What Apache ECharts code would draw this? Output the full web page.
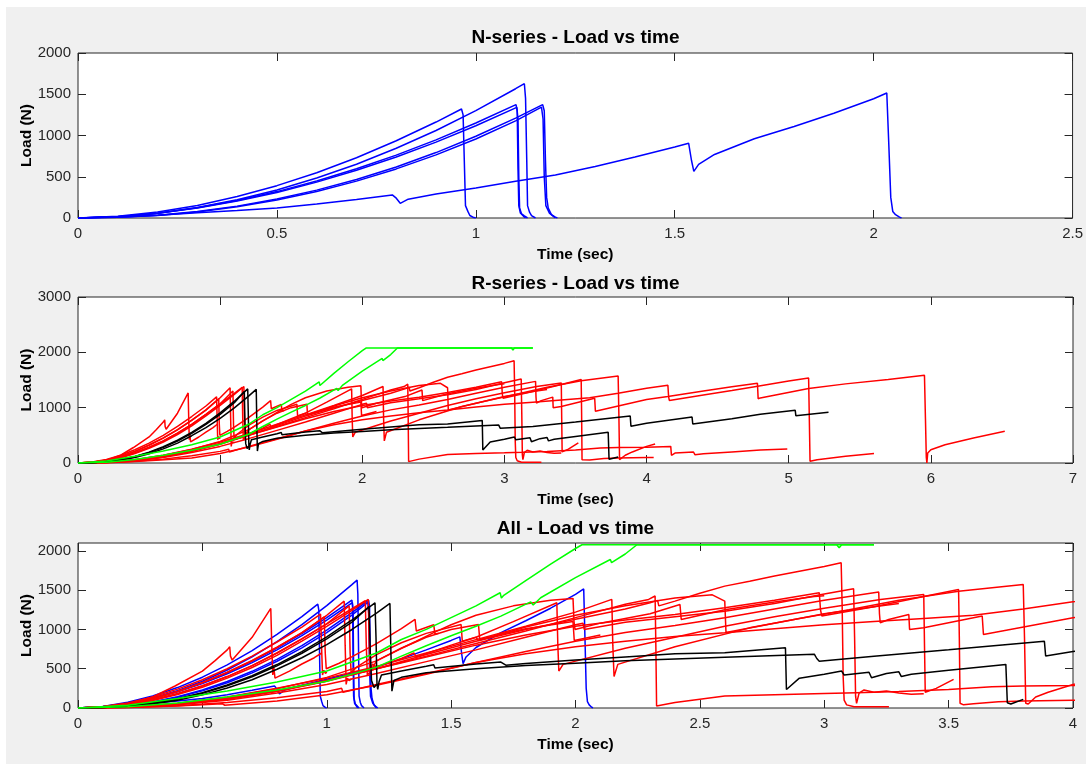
<!DOCTYPE html>
<html><head><meta charset="utf-8">
<script src="https://cdn.jsdelivr.net/npm/echarts@6/dist/echarts.min.js"></script>
<style>html,body{margin:0;padding:0;background:#fff}#c{width:1086px;height:764px}</style>
</head><body><div id="c"></div><script>
// ---- Titles / axis text ----
const titles = ['N-series - Load vs time', 'R-series - Load vs time', 'All - Load vs time'];
const xName = 'Time (sec)';
const yName = 'Load (N)';
const xMax = [2.5, 7, 4];
const xStep = [0.5, 1, 0.5];
const yMax = [2000, 3000, 2100];
const yStep = [500, 1000, 500];

// ---- N-series (blue) [time s, load N] ----
const n1 = [[0,0],[0.1,20],[0.2,72],[0.3,152],[0.4,260],[0.5,392],[0.6,549],[0.7,731],[0.8,936],[0.9,1163],[0.964,1321],[0.968,1250],[0.971,700],[0.974,150],[0.98,80],[0.985,30],[0.99,45],[0.995,5],[1.0,0]];
const n2 = [[0,0],[0.1,15],[0.2,57],[0.3,126],[0.4,220],[0.5,340],[0.6,484],[0.7,652],[0.8,845],[0.9,1061],[1.0,1302],[1.1,1567],[1.122,1628],[1.125,1450],[1.128,700],[1.13,150],[1.135,70],[1.14,30],[1.145,40],[1.15,0]];
const n3 = [[0,0],[0.1,16],[0.2,59],[0.3,125],[0.4,212],[0.5,320],[0.6,448],[0.7,596],[0.8,762],[0.9,947],[1.0,1151],[1.101,1374],[1.104,1300],[1.106,600],[1.108,150],[1.112,60],[1.12,20],[1.125,0]];
const n4 = [[0,0],[0.1,15],[0.2,56],[0.3,120],[0.4,205],[0.5,310],[0.6,435],[0.7,578],[0.8,740],[0.9,920],[1.0,1118],[1.103,1341],[1.106,1200],[1.108,500],[1.11,120],[1.115,50],[1.122,25],[1.13,0]];
const n5 = [[0,0],[0.1,8],[0.2,33],[0.3,78],[0.4,144],[0.5,230],[0.6,338],[0.7,467],[0.8,619],[0.9,793],[1.0,991],[1.1,1211],[1.168,1374],[1.172,1300],[1.175,700],[1.178,250],[1.182,120],[1.19,40],[1.2,10],[1.205,0]];
const n6 = [[0,0],[0.1,8],[0.2,31],[0.3,74],[0.4,137],[0.5,218],[0.6,322],[0.7,447],[0.8,595],[0.9,765],[1.0,958],[1.1,1178],[1.165,1345],[1.169,1200],[1.172,500],[1.176,150],[1.185,60],[1.195,20],[1.2,0]];
const n7 = [[0,0],[0.1,12],[0.2,34],[0.3,64],[0.4,90],[0.5,121],[0.6,170],[0.7,225],[0.79,280],[0.8,240],[0.81,178],[0.83,228],[0.9,290],[1.0,365],[1.1,445],[1.2,520],[1.3,625],[1.4,740],[1.5,860],[1.535,905],[1.542,700],[1.548,565],[1.56,650],[1.6,770],[1.7,960],[1.8,1110],[1.9,1270],[2.0,1445],[2.033,1515],[2.038,900],[2.043,250],[2.048,80],[2.055,40],[2.06,50],[2.065,10],[2.07,0]];

// ---- R-series (red) ----
const r1 = [[0,0],[0.1,12],[0.2,45],[0.3,140],[0.39,280],[0.5,470],[0.55,600],[0.6,740],[0.61,780],[0.613,660],[0.62,610],[0.7,900],[0.775,1267],[0.779,800],[0.783,420],[0.787,520],[0.792,380],[0.8,400],[0.85,470],[0.9,560],[0.95,640],[0.98,700]];
const r2 = [[0,0],[0.1,18],[0.2,65],[0.3,140],[0.4,240],[0.5,360],[0.6,500],[0.7,660],[0.8,840],[0.9,1030],[0.975,1195],[0.979,800],[0.983,420],[0.988,480],[0.995,440],[1.0,460]];
const r3 = [[0,0],[0.1,14],[0.2,52],[0.3,120],[0.4,210],[0.5,325],[0.6,455],[0.7,605],[0.8,775],[0.9,955],[0.99,1160],[0.994,700],[0.998,500],[1.05,570],[1.1,650],[1.2,820],[1.3,1010],[1.355,1127],[1.36,980],[1.43,1060],[1.435,940],[1.45,950]];
const r4 = [[0,0],[0.1,15],[0.2,55],[0.3,120],[0.4,210],[0.5,320],[0.6,450],[0.7,600],[0.8,770],[0.9,960],[1.0,1180],[1.07,1360],[1.074,800],[1.078,300],[1.083,380],[1.09,350],[1.1,370]];
const r5 = [[0,0],[0.1,10],[0.2,42],[0.3,100],[0.4,180],[0.5,280],[0.6,400],[0.7,540],[0.8,700],[0.9,880],[1.0,1070],[1.09,1300],[1.094,700],[1.098,450],[1.12,520],[1.2,680],[1.3,830],[1.4,950],[1.54,1063],[1.545,849],[1.6,900],[1.75,1100],[1.925,1340],[1.929,800],[1.933,470],[1.95,555],[2.2,760],[2.4,900],[2.6,1040],[2.8,1160],[3.0,1270],[3.226,1381],[3.4,1445],[3.403,800],[3.406,200],[3.41,180],[3.45,250],[3.52,365]];
const r6 = [[0,0],[0.1,10],[0.2,40],[0.3,95],[0.4,170],[0.5,265],[0.6,380],[0.7,515],[0.8,670],[0.9,850],[1.0,1040],[1.1,1240],[1.167,1382],[1.17,900],[1.174,500],[1.185,560],[1.2,520]];
const r7 = [[0,0],[0.1,12],[0.2,45],[0.3,105],[0.4,185],[0.5,285],[0.6,400],[0.7,540],[0.8,700],[0.9,880],[1.0,1070],[1.1,1260],[1.155,1365],[1.159,800],[1.163,420],[1.175,460],[1.2,600],[1.3,760],[1.4,900],[1.5,1000],[1.61,1063],[1.615,871],[1.7,940],[1.8,1010],[1.99,1100],[1.995,860],[2.1,930]];
const r8 = [[0,0],[0.2,15],[0.4,60],[0.6,140],[0.8,250],[1.0,380],[1.2,530],[1.4,700],[1.6,870],[1.8,1040],[2.0,1220],[2.146,1382],[2.15,800],[2.155,400],[2.17,555],[2.4,780],[2.7,1020],[2.9,1140],[3.1,1250],[3.3,1370],[3.54,1487],[3.8,1572],[3.805,900],[3.81,60],[3.82,50],[3.85,140],[3.9,200],[4.0,300],[4.06,344]];
const r9 = [[0,0],[0.2,12],[0.4,50],[0.6,120],[0.8,220],[1.0,350],[1.2,500],[1.4,660],[1.6,820],[1.8,980],[2.0,1150],[2.2,1320],[2.294,1382],[2.32,1425],[2.323,800],[2.326,25],[2.4,70],[2.6,152],[2.8,170],[3.0,185],[3.13,195],[3.3,210],[3.5,235],[3.674,271],[3.8,280],[4.0,285],[4.17,300],[4.175,139],[4.2,180],[4.33,199],[4.34,150],[4.4,165],[4.6,200],[4.8,235],[4.99,253]];
const r10 = [[0,0],[0.2,10],[0.4,45],[0.6,110],[0.8,210],[1.0,340],[1.2,500],[1.4,680],[1.6,850],[1.8,1000],[2.0,1130],[2.2,1260],[2.3,1340],[2.33,1370],[2.335,1300],[2.4,1360],[2.5,1460],[2.6,1551],[2.7,1614],[2.8,1680],[2.9,1740],[3.0,1800],[3.068,1848],[3.072,1300],[3.076,400],[3.08,100],[3.09,40],[3.12,15],[3.26,15]];
const r11 = [[0,0],[0.2,5],[0.4,25],[0.58,55],[0.59,35],[0.8,90],[1.0,170],[1.2,290],[1.4,430],[1.6,580],[1.8,720],[2.0,850],[2.2,960],[2.4,1050],[2.6,1148],[2.8,1260],[3.0,1370],[3.219,1475],[3.222,1200],[3.225,1085],[3.259,1127],[3.34,1190],[3.343,1000],[3.4,1020],[3.635,1170],[3.64,936],[3.642,957],[4.0,1148],[4.15,1200],[4.4,1300],[4.6,1380],[4.78,1440],[4.785,1160],[4.8,1176],[5.14,1345],[5.4,1430],[5.7,1510],[5.955,1586],[5.962,800],[5.968,100],[5.972,0],[5.978,180],[6.0,240],[6.1,330],[6.3,450],[6.52,575]];
const r12 = [[0,0],[0.2,6],[0.4,30],[0.6,70],[0.8,130],[1.0,210],[1.06,250],[1.065,200],[1.2,300],[1.4,440],[1.6,580],[1.8,690],[2.0,780],[2.2,850],[2.4,910],[2.6,957],[2.8,1010],[3.0,1060],[3.2,1100],[3.4,1140],[3.6,1180],[3.8,1260],[4.0,1352],[4.15,1405],[4.155,1200],[4.16,1130],[4.4,1230],[4.6,1310],[4.75,1375],[5.0,1480],[5.14,1538],[5.145,800],[5.15,30],[5.2,60],[5.4,120],[5.6,170]];
const r13 = [[0,0],[0.2,12],[0.4,50],[0.6,120],[0.8,220],[1.0,350],[1.2,500],[1.4,650],[1.6,800],[1.8,930],[2.0,1040],[2.2,1120],[2.4,1190],[2.6,1276],[2.8,1370],[2.98,1467],[2.985,1250],[2.99,1172],[3.2,1290],[3.4,1420],[3.54,1509],[3.543,900],[3.546,60],[3.56,40],[3.6,55],[3.7,80],[3.8,90],[4.0,100],[4.05,100]];
const r14 = [[0,0],[0.2,10],[0.4,40],[0.6,100],[0.8,190],[1.0,300],[1.2,440],[1.4,590],[1.6,740],[1.8,900],[2.0,1060],[2.03,1080],[2.035,1000],[2.2,1090],[2.4,1160],[2.6,1232],[2.8,1330],[3.0,1450],[3.118,1517],[3.122,900],[3.126,150],[3.13,60],[3.14,190],[3.16,230],[3.2,200],[3.25,215],[3.3,190],[3.35,175],[3.4,180]];
const r15 = [[0,0],[0.2,14],[0.4,58],[0.6,135],[0.8,245],[1.0,390],[1.2,600],[1.3,760],[1.36,850],[1.43,960],[1.5,1060],[1.6,1180],[1.75,1300],[1.9,1370],[1.99,1395],[1.994,1100],[1.998,1000],[2.1,1080],[2.3,1200],[2.42,1318],[2.425,1127],[2.6,1250],[2.8,1350],[2.96,1420],[3.0,1430]];
const r16 = [[0,0],[0.2,10],[0.4,48],[0.6,115],[0.8,215],[1.0,345],[1.2,520],[1.3,630],[1.35,700],[1.36,650],[1.5,800],[1.6,900],[1.61,860],[1.8,1030],[2.0,1180],[2.2,1300],[2.4,1400],[2.55,1440],[2.6,1360],[2.605,960],[2.61,935],[2.8,1080],[3.0,1200],[3.2,1290],[3.3,1330]];

// ---- R-series (black) ----
const k1 = [[0,0],[0.1,6],[0.2,26],[0.3,63],[0.4,119],[0.5,195],[0.6,293],[0.7,411],[0.8,553],[0.9,717],[1.0,905],[1.1,1117],[1.194,1339],[1.198,900],[1.202,300],[1.205,237],[1.21,330],[1.22,420],[1.25,440],[1.3,470],[1.4,530],[1.43,550],[1.435,510],[1.6,560],[1.7,585],[1.72,545],[1.8,565],[2.0,610],[2.2,650],[2.4,690],[2.6,703],[2.844,767],[2.848,236],[2.9,380],[3.0,430],[3.07,470],[3.08,420],[3.18,455],[3.19,385],[3.25,440],[3.3,460],[3.31,400],[3.35,430],[3.5,480],[3.73,555],[3.736,67],[3.75,50],[3.8,110]];
const k2 = [[0,0],[0.1,5],[0.2,22],[0.3,52],[0.4,100],[0.5,167],[0.6,255],[0.7,360],[0.8,493],[0.9,640],[1.0,807],[1.1,996],[1.2,1208],[1.254,1331],[1.258,700],[1.262,215],[1.27,350],[1.3,390],[1.4,449],[1.6,500],[1.8,540],[2.0,570],[2.2,600],[2.4,625],[2.6,645],[2.96,685],[2.97,630],[2.98,596],[3.2,660],[3.5,740],[3.885,850],[3.89,663],[4.0,720],[4.32,830],[4.325,705],[4.6,800],[4.8,880],[5.046,953],[5.05,856],[5.28,916]];
const k3 = [[0,0],[0.1,6],[0.2,25],[0.3,60],[0.4,114],[0.5,188],[0.6,283],[0.7,398],[0.8,536],[0.9,697],[1.0,880],[1.1,1090],[1.17,1290],[1.175,700],[1.18,350],[1.19,260],[1.2,300]];

// ---- R-series (green) ----
const g1 = [[0,0],[0.2,35],[0.4,120],[0.6,215],[0.8,330],[1.0,470],[1.2,700],[1.3,872],[1.4,1000],[1.5,1150],[1.6,1300],[1.697,1467],[1.702,1400],[1.71,1430],[1.8,1620],[1.9,1830],[2.0,2030],[2.026,2078],[3.05,2078],[3.06,2040],[3.07,2078],[3.2,2078]];
const g2 = [[0,0],[0.2,15],[0.4,65],[0.6,140],[0.8,230],[1.0,340],[1.2,520],[1.3,660],[1.4,792],[1.5,920],[1.6,1040],[1.7,1170],[1.82,1350],[1.83,1310],[1.86,1403],[2.0,1660],[2.14,1890],[2.145,1850],[2.2,1960],[2.247,2078],[3.2,2078]];

const blueCurves = [n1, n2, n3, n4, n5, n6, n7];
const redCurves = [r1, r2, r3, r4, r5, r6, r7, r8, r9, r10, r11, r12, r13, r14, r15, r16];
const blackCurves = [k1, k2, k3];
const greenCurves = [g1, g2];

// ---- Build chart ----
const FONT = 'Liberation Sans, Arial, sans-serif';
const GRIDS = [
  {left: 78, top: 53, width: 995, height: 165},
  {left: 78, top: 297, width: 995, height: 166},
  {left: 78, top: 543, width: 995, height: 165}
];
const TITLE_TOP = [28, 274, 519];

const grid = GRIDS.map(g => Object.assign({show: true, backgroundColor: '#ffffff', borderColor: '#262626', borderWidth: 1, containLabel: false}, g));
const tick = () => ({show: true, inside: true, length: 8, lineStyle: {color: '#262626', width: 1}});
const noLine = () => ({show: false, onZero: false});
const fmt = v => String(Math.round(v * 1000) / 1000);

const xAxis = [], yAxis = [];
for (let i = 0; i < 3; i++) {
  xAxis.push({type: 'value', gridIndex: i, min: 0, max: xMax[i], interval: xStep[i], position: 'bottom',
    axisLine: noLine(), axisTick: tick(), splitLine: {show: false},
    axisLabel: {margin: 8, fontSize: 15, color: '#262626', fontFamily: FONT, formatter: fmt},
    name: xName, nameLocation: 'middle', nameGap: 29, nameMoveOverlap: false,
    nameTextStyle: {fontSize: 15.5, fontWeight: 'bold', color: '#000', fontFamily: FONT}});
  yAxis.push({type: 'value', gridIndex: i, min: 0, max: yMax[i], interval: yStep[i], position: 'left',
    axisLine: noLine(), axisTick: tick(), splitLine: {show: false},
    axisLabel: {margin: 7, fontSize: 15, color: '#262626', fontFamily: FONT, formatter: fmt, showMaxLabel: i === 2 ? false : true},
    name: yName, nameLocation: 'middle', nameGap: 43, nameRotate: 90, nameMoveOverlap: false,
    nameTextStyle: {fontSize: 15.5, fontWeight: 'bold', color: '#000', fontFamily: FONT}});
}
for (let i = 0; i < 3; i++) {
  xAxis.push({type: 'value', gridIndex: i, min: 0, max: xMax[i], interval: xStep[i], position: 'top',
    axisLine: noLine(), axisTick: tick(), axisLabel: {show: false}, splitLine: {show: false}});
  yAxis.push({type: 'value', gridIndex: i, min: 0, max: yMax[i], interval: yStep[i], position: 'right',
    axisLine: noLine(), axisTick: tick(), axisLabel: {show: false}, splitLine: {show: false}});
}

const series = [];
function addCurves(curves, color, panel) {
  curves.forEach(c => series.push({type: 'line', xAxisIndex: panel, yAxisIndex: panel, data: c,
    symbol: 'none', showSymbol: false, clip: true, silent: true, animation: false,
    lineStyle: {color: color, width: 1.5}}));
}
addCurves(blueCurves, '#0000ff', 0);
addCurves(redCurves, '#ff0000', 1);
addCurves(blackCurves, '#000000', 1);
addCurves(greenCurves, '#00ff00', 1);
addCurves(blueCurves, '#0000ff', 2);
addCurves(redCurves, '#ff0000', 2);
addCurves(blackCurves, '#000000', 2);
addCurves(greenCurves, '#00ff00', 2);

const title = titles.map((t, i) => ({text: t, left: 575.5, top: TITLE_TOP[i], textAlign: 'center', padding: 0,
  textStyle: {fontSize: 19, fontWeight: 'bold', color: '#000', fontFamily: FONT}}));

const chart = echarts.init(document.getElementById('c'), null, {renderer: 'canvas'});
chart.setOption({
  backgroundColor: '#f0f0f0',
  animation: false,
  title: title,
  grid: grid,
  xAxis: xAxis,
  yAxis: yAxis,
  series: series,
  graphic: [
    {type: 'rect', left: 0, top: 0, shape: {width: 1086, height: 7}, style: {fill: '#ffffff'}, silent: true},
    {type: 'rect', left: 0, top: 0, shape: {width: 6, height: 764}, style: {fill: '#ffffff'}, silent: true}
  ]
});
</script></body></html>
